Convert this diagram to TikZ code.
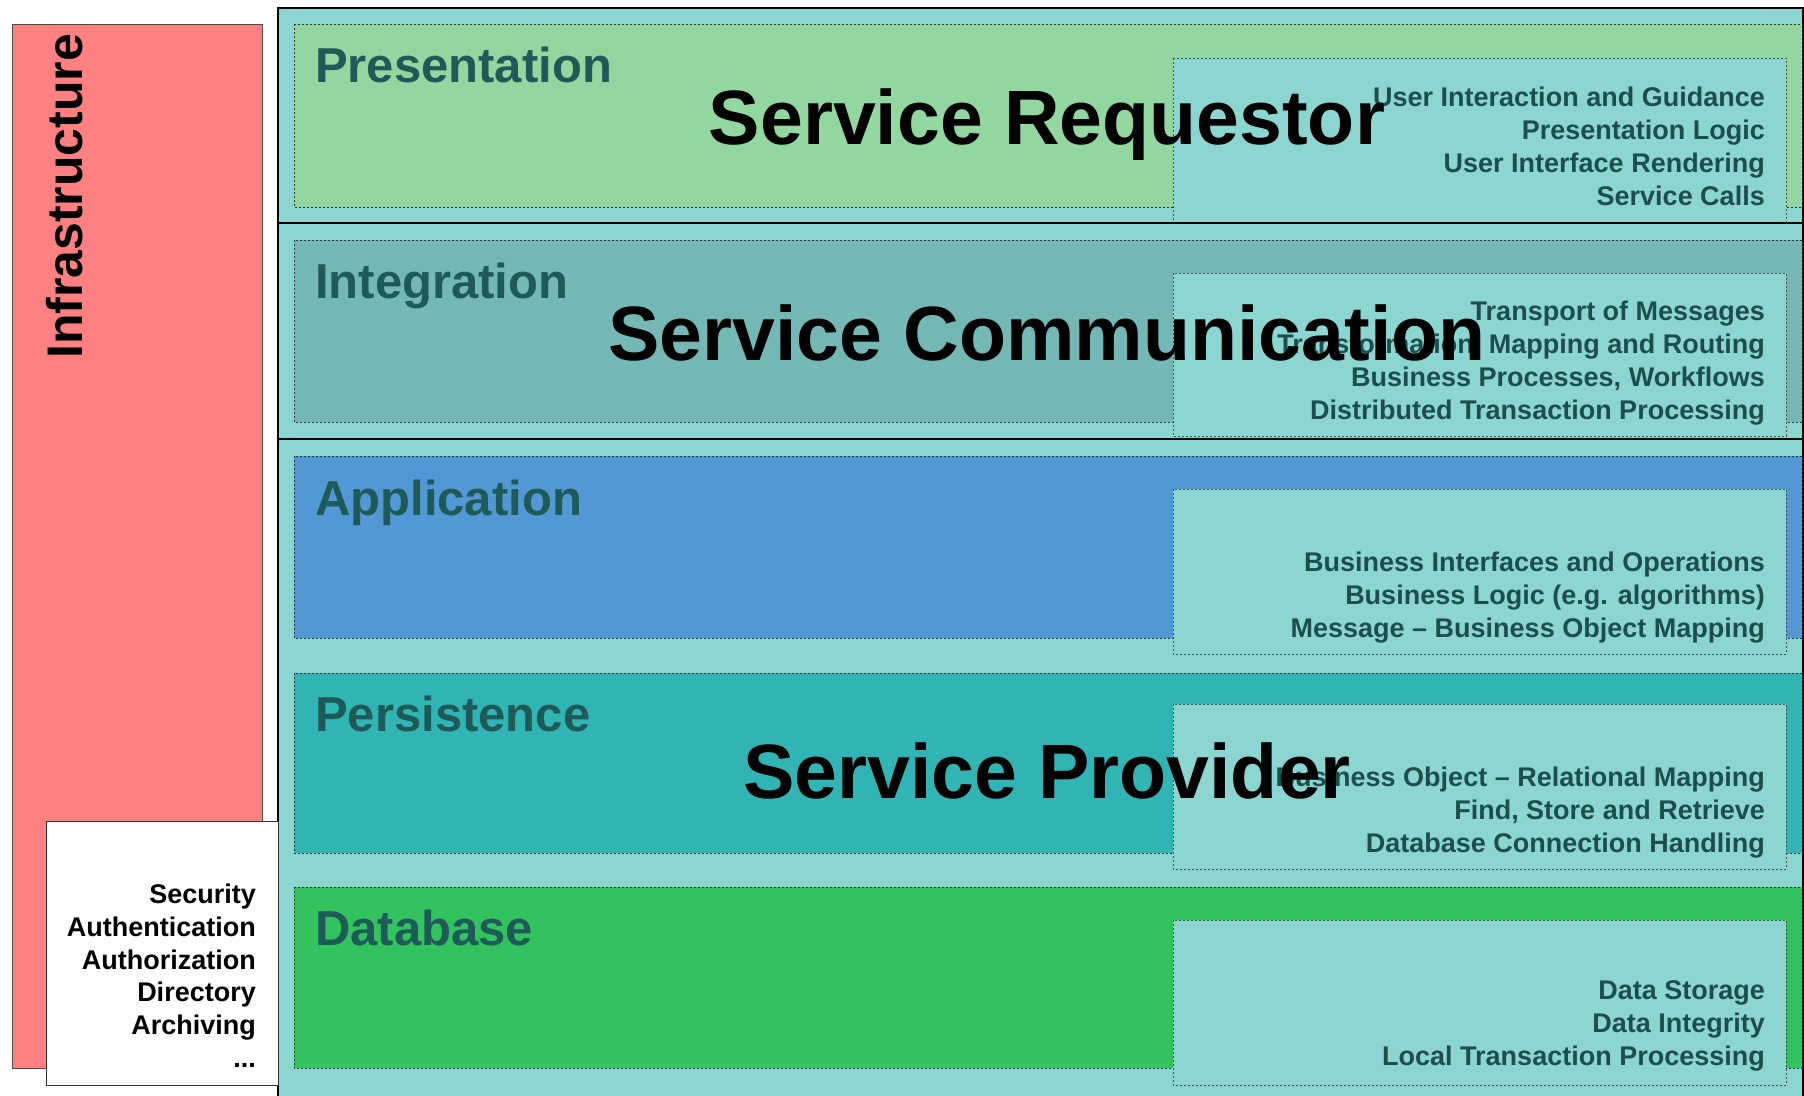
\documentclass[tikz,border=0pt]{standalone}
\usepackage{fontspec}
\setmainfont{Liberation Sans}
\definecolor{tealbg}{RGB}{140,214,210}
\definecolor{infrafill}{RGB}{255,128,128}
\definecolor{presfill}{RGB}{146,215,159}
\definecolor{integfill}{RGB}{115,184,180}
\definecolor{appfill}{RGB}{82,152,212}
\definecolor{persfill}{RGB}{48,180,180}
\definecolor{dbfill}{RGB}{50,195,95}
\definecolor{titletxt}{RGB}{30,90,88}
\definecolor{detailtxt}{RGB}{28,78,76}
\begin{document}
\begin{tikzpicture}[x=1pt,y=-1pt,
  layer/.style={draw=black!80, line width=1pt, dash pattern=on 2pt off 2pt},
  innerbox/.style={fill=tealbg, draw=black!70, line width=1pt, dash pattern=on 2pt off 2pt},
  ltitle/.style={inner sep=0pt, anchor=base west, text=titletxt, font=\fontsize{49}{59}\selectfont\bfseries},
  dtext/.style={inner sep=0pt, anchor=base east, text=detailtxt, font=\fontsize{27}{32}\selectfont\bfseries},
  bigtext/.style={inner sep=0pt, anchor=base, text=black, font=\fontsize{77}{92}\selectfont\bfseries},
  sectext/.style={inner sep=0pt, anchor=base east, text=black, font=\fontsize{27}{32}\selectfont\bfseries}]
\useasboundingbox (0,0) rectangle (1804,1095);
\fill[white] (0,0) rectangle (1804,1095);
\clip (0,0) rectangle (1804,1095);
% infrastructure column
\draw[fill=infrafill, draw=black!70, line width=1pt] (12,24) rectangle (262,1068);
\node[rotate=90, anchor=base west, inner sep=0pt, font=\fontsize{50}{60}\selectfont\bfseries] (infra) at (82,359) {Infrastructure};
% outer area
\draw[fill=tealbg, draw=black, line width=1.2pt] (278,8) rectangle (1803,1110);
% layers
\draw[layer, fill=presfill] (294,24) rectangle (1802,207);
\draw[layer, fill=integfill] (294,240) rectangle (1802,422);
\draw[layer, fill=appfill] (294,456) rectangle (1802,638);
\draw[layer, fill=persfill] (294,673) rectangle (1802,853);
\draw[layer, fill=dbfill] (294,887) rectangle (1802,1068);
% inner boxes
\draw[innerbox] (1173,58) rectangle (1786,222);
\draw[innerbox] (1173,273) rectangle (1786,436);
\draw[innerbox] (1173,489) rectangle (1786,654);
\draw[innerbox] (1173,704) rectangle (1786,869);
\draw[innerbox] (1173,920) rectangle (1786,1085);
% separators
\draw[line width=2pt] (278,223) -- (1803,223);
\draw[line width=2pt] (278,439) -- (1803,439);
% layer titles
\node[ltitle] (tpres) at (315,82) {Presentation};
\node[ltitle] (tinteg) at (315,298) {Integration};
\node[ltitle] (tapp) at (315,515) {Application};
\node[ltitle] (tpers) at (315,731) {Persistence};
\node[ltitle] (tdb) at (315,945) {Database};
% detail texts
\node[dtext] (p1) at (1765,106) {User Interaction and Guidance};
\node[dtext] (p2) at (1765,139) {Presentation Logic};
\node[dtext] (p3) at (1765,172) {User Interface Rendering};
\node[dtext] (p4) at (1765,205) {Service Calls};
\node[dtext] (i1) at (1765,320) {Transport of Messages};
\node[dtext] (i2) at (1765,353) {Transformation, Mapping and Routing};
\node[dtext] (i3) at (1765,386) {Business Processes, Workflows};
\node[dtext] (i4) at (1765,419) {Distributed Transaction Processing};
\node[dtext] (a1) at (1765,571) {Business Interfaces and Operations};
\node[dtext] (a2) at (1765,604) {Business Logic (e.g. algorithms)};
\node[dtext] (a3) at (1765,637) {Message – Business Object Mapping};
\node[dtext] (r1) at (1765,786) {Business Object – Relational Mapping};
\node[dtext] (r2) at (1765,819) {Find, Store and Retrieve};
\node[dtext] (r3) at (1765,852) {Database Connection Handling};
\node[dtext] (d1) at (1765,999) {Data Storage};
\node[dtext] (d2) at (1765,1032) {Data Integrity};
\node[dtext] (d3) at (1765,1065) {Local Transaction Processing};
% big labels
\node[bigtext] (req) at (1047,144) {Service Requestor};
\node[bigtext] (comm) at (1047,360) {Service Communication};
\node[bigtext] (prov) at (1047,798) {Service Provider};
% security box
\draw[fill=white, draw=black!80, line width=1pt] (46,821) rectangle (278,1085);
\node[sectext] (s1) at (256,903) {Security};
\node[sectext] (s2) at (256,936) {Authentication};
\node[sectext] (s3) at (256,969) {Authorization};
\node[sectext] (s4) at (256,1001) {Directory};
\node[sectext] (s5) at (256,1034) {Archiving};
\node[sectext] (s6) at (256,1067) {...};
\end{tikzpicture}
\end{document}
